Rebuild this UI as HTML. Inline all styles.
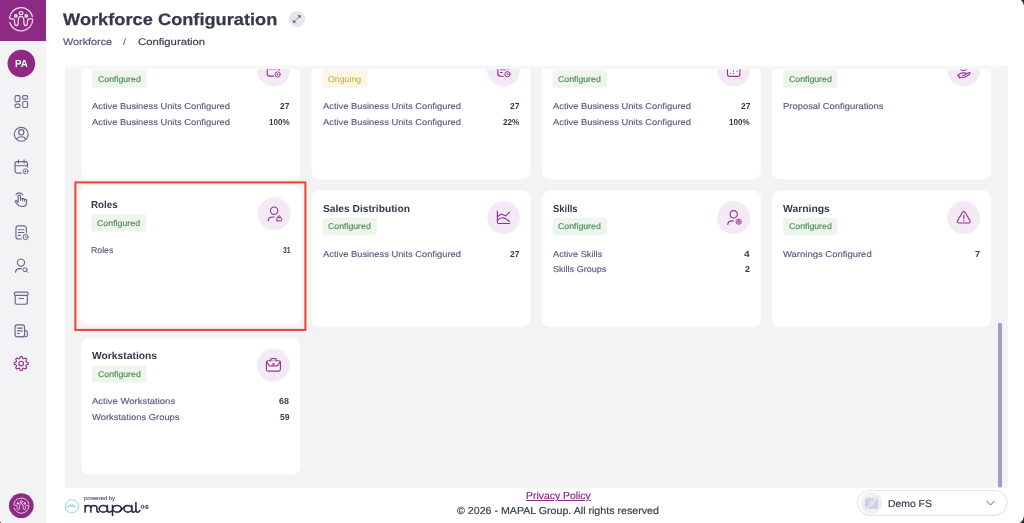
<!DOCTYPE html>
<html><head><meta charset="utf-8"><title>Workforce Configuration</title>
<style>
html,body{margin:0;padding:0;}
body{width:1024px;height:523px;overflow:hidden;background:#fff;position:relative;font-family:"Liberation Sans", sans-serif;}
.t{position:absolute;white-space:nowrap;line-height:1em;transform-origin:0 0;font-family:"Liberation Sans", sans-serif;text-rendering:geometricPrecision;}
.abs{position:absolute;}
#root{position:absolute;left:0;top:0;width:1024px;height:523px;overflow:hidden;will-change:transform;}
#side{position:absolute;left:0;top:0;width:46px;height:523px;background:#f3f3f6;}
#logo{position:absolute;left:0;top:0;width:46px;height:41px;background:#8e2a86;}
</style></head><body><div id="root">
<div id="side">
  <div id="logo"><svg class="abs" style="left:0;top:0" width="46" height="41" viewBox="0 0 46 41"><g transform="translate(21.05 19.3) scale(1.0)" stroke="#fff" stroke-opacity="0.88" stroke-width="1.20" fill="none" stroke-linecap="round" stroke-linejoin="round"><path d="M11.35 -2.8 A11.7 11.7 0 0 0 -11.5 -2.0 C-11.6 -0.9 -10.9 -0.5 -10 -0.5 H-8.4 C-6.6 -0.5 -6.4 0.8 -6.4 2.4 C-6.4 4.6 -5.9 6.3 -4.6 6.3 C-3.2 6.3 -2.8 4.7 -2.8 2.6 V1 C-2.8 -1.6 -1.6 -3 0 -3 C1.6 -3 2.8 -1.6 2.8 1 V2.6 C2.8 4.7 3.2 6.3 4.6 6.3 C5.9 6.3 6.4 4.6 6.4 2.4 C6.4 0.8 6.6 -0.5 8.4 -0.5 H11.6"/><path d="M-11.2 3.4 A11.7 11.7 0 0 0 11.65 0.9"/><ellipse cx="0" cy="-6.2" rx="1.9" ry="1.6"/><circle cx="-5.2" cy="-3.4" r="1.35" fill="#fff" fill-opacity="0.45"/><circle cx="5.2" cy="-3.4" r="1.35" fill="#fff" fill-opacity="0.45"/></g></svg></div>
  <svg class="abs" style="left:0;top:0" width="46" height="523" viewBox="0 0 46 523"><circle cx="21.35" cy="63.45" r="13.8" fill="#8e2a86"/><circle cx="21.3" cy="505.7" r="12.4" fill="#8e2a86"/><g transform="translate(21.35 505.65) scale(0.6495726495726496)" stroke="#fff" stroke-opacity="0.88" stroke-width="1.31" fill="none" stroke-linecap="round" stroke-linejoin="round"><path d="M11.35 -2.8 A11.7 11.7 0 0 0 -11.5 -2.0 C-11.6 -0.9 -10.9 -0.5 -10 -0.5 H-8.4 C-6.6 -0.5 -6.4 0.8 -6.4 2.4 C-6.4 4.6 -5.9 6.3 -4.6 6.3 C-3.2 6.3 -2.8 4.7 -2.8 2.6 V1 C-2.8 -1.6 -1.6 -3 0 -3 C1.6 -3 2.8 -1.6 2.8 1 V2.6 C2.8 4.7 3.2 6.3 4.6 6.3 C5.9 6.3 6.4 4.6 6.4 2.4 C6.4 0.8 6.6 -0.5 8.4 -0.5 H11.6"/><path d="M-11.2 3.4 A11.7 11.7 0 0 0 11.65 0.9"/><ellipse cx="0" cy="-6.2" rx="1.9" ry="1.6"/><circle cx="-5.2" cy="-3.4" r="1.35" fill="#fff" fill-opacity="0.45"/><circle cx="5.2" cy="-3.4" r="1.35" fill="#fff" fill-opacity="0.45"/></g></svg>
  <svg class="abs" style="left:0;top:0;" width="1024" height="523" viewBox="0 0 1024 523" fill="none" stroke-linecap="round" stroke-linejoin="round"><g stroke="#666a8b" stroke-width="1.15"><rect x="15.05" y="95.65" width="4.9" height="6.0" rx="1.1"/><rect x="22.65" y="95.65" width="4.9" height="3.4" rx="1.1"/><rect x="15.05" y="104.05" width="4.9" height="3.4" rx="1.1"/><rect x="22.65" y="101.45" width="4.9" height="6.0" rx="1.1"/><circle cx="21.25" cy="134.25" r="6.95"/><circle cx="21.25" cy="132.3" r="2.65"/><path d="M16.6 139.4 C17.4 137.4 19.2 136.7 21.25 136.7 C23.3 136.7 25.1 137.4 25.9 139.4"/><g transform="translate(0 0)"><path d="M27.45 167 V163.85 a2.2 2.2 0 0 0 -2.2 -2.2 H17.25 a2.2 2.2 0 0 0 -2.2 2.2 V170.85 a2.2 2.2 0 0 0 2.2 2.2 H21.3"/><path d="M15.05 165.7 H27.45 M18.4 159.9 V163 M24.1 159.9 V163"/><circle cx="25.5" cy="171.3" r="2.55" stroke-width="0.9"/><path d="M25 170.5 L26.3 171.3 L25 172.1 Z" fill="currentColor" stroke-width="0.4"/></g><path d="M16 194.7 A3.9 3.9 0 0 1 22.6 194.7"/><path d="M18.1 202.6 V196.3 a1.15 1.15 0 0 1 2.3 0 V200.3 M20.4 199.3 a1.05 1.05 0 0 1 2.1 0 V200.7 M22.5 199.7 a1.05 1.05 0 0 1 2.1 0 V201.1 M24.6 200.3 a1 1 0 0 1 2 0 V202.4 c0 2.5 -2 4.1 -4.8 4.1 c-2.4 0 -3.7 -1 -4.9 -2.6 l-1.5 -2.1 c-.5 -.8 .6 -1.6 1.3 -.9 l1.4 1.5"/><g transform="translate(0 0)"><path d="M26.35 232.4 V228.25 a2.4 2.4 0 0 0 -2.4 -2.4 H18.35 a2.4 2.4 0 0 0 -2.4 2.4 V236.65 a2.4 2.4 0 0 0 2.4 2.4 H21.4"/><path d="M18.4 229.7 H23.9 M18.4 232.5 H23.9 M18.4 235.3 H20.4"/><circle cx="25.6" cy="237" r="2.6" stroke-width="1"/><path d="M25.5 235.9 V237.2 H26.4" stroke-width="0.8"/></g><circle cx="21" cy="262.6" r="3.6"/><path d="M15.6 272.2 C15.6 269.8 17.6 268.6 20 268.6 H21.4"/><circle cx="25" cy="269.7" r="2.0" stroke-width="1"/><path d="M26.5 271.2 L27.7 272.4" stroke-width="1"/><rect x="14.45" y="292.05" width="13.6" height="3.3" rx="1.1"/><path d="M15.2 295.4 V302.2 a2 2 0 0 0 2 2 H25.3 a2 2 0 0 0 2 -2 V295.4 M19 298.5 H23.5"/><rect x="15.05" y="324.85" width="9.5" height="11.9" rx="2.3"/><path d="M24.55 330.6 H25.8 a1.5 1.5 0 0 1 1.5 1.5 V335.2 a1.5 1.5 0 0 1 -1.5 1.5 H18"/><path d="M17.4 328.1 H22.3 M17.4 330.9 H22.3 M17.4 333.5 H19.4"/></g><g stroke="#982f92" stroke-width="1.15"><path d="M19.72 358.41 L20.34 356.55 L22.06 356.55 L22.68 358.41 L23.75 358.86 L25.50 357.98 L26.72 359.20 L25.84 360.95 L26.29 362.02 L28.15 362.64 L28.15 364.36 L26.29 364.98 L25.84 366.05 L26.72 367.80 L25.50 369.02 L23.75 368.14 L22.68 368.59 L22.06 370.45 L20.34 370.45 L19.72 368.59 L18.65 368.14 L16.90 369.02 L15.68 367.80 L16.56 366.05 L16.11 364.98 L14.25 364.36 L14.25 362.64 L16.11 362.02 L16.56 360.95 L15.68 359.20 L16.90 357.98 L18.65 358.86Z"/><circle cx="21.2" cy="363.5" r="2.3"/></g></svg>
</div>
<div class="abs" style="left:288.9px;top:10.9px;width:16.2px;height:16.2px;border-radius:50%;background:#e5e5ea;"></div><svg class="abs" style="left:0;top:0;" width="1024" height="523" viewBox="0 0 1024 523" fill="none" stroke-linecap="round" stroke-linejoin="round"><g stroke="#5a5b66" stroke-width="0.65" fill="#4c4d58"><path d="M294.2 21.5 L299.6 16.4"/><path d="M293.3 20.4 V22.4 H295.3 Z M298.4 15.6 H300.4 V17.6 Z" stroke-width="0.5" stroke="#4c4d58"/></g></svg>
<svg class="abs" style="left:0;top:0" width="1024" height="523" viewBox="0 0 1024 523"><defs><clipPath id="cc"><rect x="65" y="69.15" width="943" height="418.5"/></clipPath></defs><rect x="65" y="65.9" width="942.8" height="421.8" fill="#f3f3f6"/><g clip-path="url(#cc)"><rect x="81.30" y="43.00" width="219.00" height="136.30" rx="8" fill="#fff"/><rect x="92.20" y="70.25" width="54.50" height="17.35" rx="2.6" fill="#edf5ee"/><g transform="translate(273.45 70.00)"><circle r="16.5" fill="#f3eaf5"/><g fill="none" stroke="#982f92" color="#982f92" stroke-width="1.15" stroke-linecap="round" stroke-linejoin="round"><g transform="translate(-21.25 -166.9)"><path d="M27.45 167 V163.85 a2.2 2.2 0 0 0 -2.2 -2.2 H17.25 a2.2 2.2 0 0 0 -2.2 2.2 V170.85 a2.2 2.2 0 0 0 2.2 2.2 H21.3"/><path d="M15.05 165.7 H27.45 M18.4 159.9 V163 M24.1 159.9 V163"/><circle cx="25.5" cy="171.3" r="2.55" stroke-width="0.9"/><path d="M25 170.5 L26.3 171.3 L25 172.1 Z" fill="currentColor" stroke-width="0.4"/></g></g></g><rect x="311.55" y="43.00" width="219.00" height="136.30" rx="8" fill="#fff"/><rect x="322.45" y="70.25" width="44.90" height="17.35" rx="2.6" fill="#fdf6e4"/><g transform="translate(503.57 70.00)"><circle r="16.5" fill="#f3eaf5"/><g fill="none" stroke="#982f92" color="#982f92" stroke-width="1.15" stroke-linecap="round" stroke-linejoin="round"><g transform="translate(-21.7 -232.8)"><path d="M26.35 232.4 V228.25 a2.4 2.4 0 0 0 -2.4 -2.4 H18.35 a2.4 2.4 0 0 0 -2.4 2.4 V236.65 a2.4 2.4 0 0 0 2.4 2.4 H21.4"/><path d="M18.4 229.7 H23.9 M18.4 232.5 H23.9 M18.4 235.3 H20.4"/><circle cx="25.6" cy="237" r="2.6" stroke-width="1"/><path d="M25.5 235.9 V237.2 H26.4" stroke-width="0.8"/></g></g></g><rect x="541.80" y="43.00" width="219.00" height="136.30" rx="8" fill="#fff"/><rect x="552.70" y="70.25" width="54.50" height="17.35" rx="2.6" fill="#edf5ee"/><g transform="translate(733.69 70.00)"><circle r="16.5" fill="#f3eaf5"/><g fill="none" stroke="#982f92" color="#982f92" stroke-width="1.15" stroke-linecap="round" stroke-linejoin="round"><rect x="-6.2" y="-5.9" width="12.4" height="12.3" rx="2.2" fill="#fbf6fc"/><path d="M-6.2 -2.4 H6.2 M-2.9 -7.8 V-4.6 M2.9 -7.8 V-4.6"/><g stroke-width="1.2"><path d="M-0.2 1.2 h0.01 M3.2 1.2 h0.01 M-3.3 3.5 h0.01 M-0.2 3.5 h0.01"/></g></g></g><rect x="772.05" y="43.00" width="219.00" height="136.30" rx="8" fill="#fff"/><rect x="782.95" y="70.25" width="54.50" height="17.35" rx="2.6" fill="#edf5ee"/><g transform="translate(963.81 70.00)"><circle r="16.5" fill="#f3eaf5"/><g fill="none" stroke="#982f92" color="#982f92" stroke-width="1.15" stroke-linecap="round" stroke-linejoin="round"><circle cx="-0.3" cy="-3.3" r="3.8"/><path d="M-1.2 -4.3 h1.8 M-1.2 -2.5 h1.8"/><path d="M-4.6 4.4 C-3.6 3.2 -2.6 2.9 -1.4 2.9 H0.6 C1.6 2.9 2 3.5 2 4.1 C2 4.7 1.5 5.2 0.6 5.2 H-1.4 M2 4.3 L4.6 2.7 C5.2 2.3 5.9 2.4 6.1 2.9 C6.4 3.4 6.1 3.9 5.6 4.3 L2.4 6.6 C1.8 7 1.2 7.2 0.5 7.2 H-3.4"/><path d="M-5.8 4.9 L-4.1 7.8" stroke-width="1.5"/></g></g><rect x="79.40" y="185.30" width="222.60" height="139.90" rx="8.8" fill="#fff" fill-opacity="0.45"/><rect x="80.30" y="186.00" width="220.80" height="138.30" rx="8" fill="#fff"/><rect x="91.39" y="214.04" width="54.95" height="17.45" rx="2.6" fill="#edf5ee"/><g transform="translate(274.13 213.79)"><circle r="16.5" fill="#f3eaf5"/><g fill="none" stroke="#982f92" color="#982f92" stroke-width="1.15" stroke-linecap="round" stroke-linejoin="round"><circle cx="0" cy="-3.1" r="3.65"/><path d="M-5.8 6.9 C-5.8 4.4 -3.8 3.2 -1.6 3.2 H-0.2"/><path d="M3.2 7 h3.6 a0.8 0.8 0 0 0 .75 -1.05 l-.7 -2.1 h-3.7 l-.7 2.1 a.8 .8 0 0 0 .75 1.05 z M3.9 3.8 V3.1 a1.1 1.1 0 0 1 2.2 0 V3.8" stroke-width="1"/></g></g><rect x="311.55" y="190.60" width="219.00" height="136.30" rx="8" fill="#fff"/><rect x="322.45" y="217.85" width="54.50" height="17.35" rx="2.6" fill="#edf5ee"/><g transform="translate(503.57 217.60)"><circle r="16.5" fill="#f3eaf5"/><g fill="none" stroke="#982f92" color="#982f92" stroke-width="1.15" stroke-linecap="round" stroke-linejoin="round"><path d="M-6.2 -6.6 V4.4 a1.5 1.5 0 0 0 1.5 1.5 H6.2"/><path d="M-6.2 -1.2 L-2.1 -3.7 L2.2 -1.7 L5.9 -5.4"/><path d="M-6.2 2.8 C-3.5 0 -1.2 0 0 0.3 C2.5 1 4 2.3 5.9 3.8"/></g></g><rect x="541.80" y="190.60" width="219.00" height="136.30" rx="8" fill="#fff"/><rect x="552.70" y="217.85" width="54.50" height="17.35" rx="2.6" fill="#edf5ee"/><g transform="translate(733.69 217.60)"><circle r="16.5" fill="#f3eaf5"/><g fill="none" stroke="#982f92" color="#982f92" stroke-width="1.15" stroke-linecap="round" stroke-linejoin="round"><circle cx="0" cy="-3.3" r="3.65"/><path d="M-5.9 6.9 C-5.9 4.5 -4 3.3 -1.8 3.3 H-0.4"/><path d="M4.39 1.99 L4.64 1.22 L5.36 1.22 L5.61 1.99 L6.06 2.17 L6.78 1.81 L7.29 2.32 L6.93 3.04 L7.11 3.49 L7.88 3.74 L7.88 4.46 L7.11 4.71 L6.93 5.16 L7.29 5.88 L6.78 6.39 L6.06 6.03 L5.61 6.21 L5.36 6.98 L4.64 6.98 L4.39 6.21 L3.94 6.03 L3.22 6.39 L2.71 5.88 L3.07 5.16 L2.89 4.71 L2.12 4.46 L2.12 3.74 L2.89 3.49 L3.07 3.04 L2.71 2.32 L3.22 1.81 L3.94 2.17Z" stroke-width="0.7" fill="#982f92" fill-opacity="0.35"/><circle cx="5" cy="4.1" r="0.8" stroke-width="0.7"/></g></g><rect x="772.05" y="190.60" width="219.00" height="136.30" rx="8" fill="#fff"/><rect x="782.95" y="217.85" width="54.50" height="17.35" rx="2.6" fill="#edf5ee"/><g transform="translate(963.81 217.60)"><circle r="16.5" fill="#f3eaf5"/><g fill="none" stroke="#982f92" color="#982f92" stroke-width="1.15" stroke-linecap="round" stroke-linejoin="round"><path d="M-1.25 -5.3 a1.45 1.45 0 0 1 2.5 0 L6.2 3.2 a1.45 1.45 0 0 1 -1.25 2.2 H-4.95 a1.45 1.45 0 0 1 -1.25 -2.2 Z"/><path d="M0 -2.6 V1.0"/><path d="M0 3.1 h0.01" stroke-width="1.4"/></g></g><rect x="81.30" y="338.20" width="219.00" height="136.30" rx="8" fill="#fff"/><rect x="92.20" y="365.45" width="54.50" height="17.35" rx="2.6" fill="#edf5ee"/><g transform="translate(273.45 365.20)"><circle r="16.5" fill="#f3eaf5"/><g fill="none" stroke="#982f92" color="#982f92" stroke-width="1.15" stroke-linecap="round" stroke-linejoin="round"><rect x="-7.05" y="-4.45" width="14" height="10.4" rx="1.8" fill="#fbf6fc"/><path d="M-2.7 -4.45 V-5.7 a1 1 0 0 1 1 -1 H1.7 a1 1 0 0 1 1 1 V-4.45" fill="#e9d3ea"/><path d="M-6.7 -3.4 L-4.3 0.2 a1 1 0 0 0 .85 .45 H3.45 a1 1 0 0 0 .85 -.45 L6.7 -3.4"/><path d="M-0.7 -1.1 H0.7" stroke-width="1.5"/></g></g><rect x="75.4" y="182.4" width="230.0" height="147.5" fill="none" stroke="#e8432b" stroke-width="2"/></g><rect x="65" y="65.9" width="942.8" height="3.25" fill="#f6f6f9"/><rect x="998" y="322.7" width="4" height="164.9" rx="2" fill="#9c9fc0"/></svg>
<span class="t" style="left:97.80px;top:75px;font-size:8.4px;font-weight:400;color:#4c8c50;transform:scaleX(1.0432);-webkit-text-stroke:0.15px #4c8c50;">Configured</span><span class="t" style="left:92.30px;top:102px;font-size:8.6px;font-weight:400;color:#565a7f;transform:scaleX(1.0850);-webkit-text-stroke:0.14px #565a7f;">Active Business Units Configured</span><span class="t" style="left:280.00px;top:102px;font-size:8.6px;font-weight:700;color:#343949;transform:scaleX(0.9765);">27</span><span class="t" style="left:92.30px;top:118px;font-size:8.6px;font-weight:400;color:#565a7f;transform:scaleX(1.0850);-webkit-text-stroke:0.14px #565a7f;">Active Business Units Configured</span><span class="t" style="left:268.70px;top:118px;font-size:8.6px;font-weight:700;color:#343949;transform:scaleX(0.9334);">100%</span><span class="t" style="left:328.05px;top:75px;font-size:8.4px;font-weight:400;color:#d6ae4a;transform:scaleX(1.0467);-webkit-text-stroke:0.12px #d6ae4a;">Ongoing</span><span class="t" style="left:322.55px;top:102px;font-size:8.6px;font-weight:400;color:#565a7f;transform:scaleX(1.0850);-webkit-text-stroke:0.14px #565a7f;">Active Business Units Configured</span><span class="t" style="left:510.25px;top:102px;font-size:8.6px;font-weight:700;color:#343949;transform:scaleX(0.9765);">27</span><span class="t" style="left:322.55px;top:118px;font-size:8.6px;font-weight:400;color:#565a7f;transform:scaleX(1.0850);-webkit-text-stroke:0.14px #565a7f;">Active Business Units Configured</span><span class="t" style="left:503.10px;top:118px;font-size:8.6px;font-weight:700;color:#343949;transform:scaleX(0.9511);">22%</span><span class="t" style="left:558.30px;top:75px;font-size:8.4px;font-weight:400;color:#4c8c50;transform:scaleX(1.0432);-webkit-text-stroke:0.15px #4c8c50;">Configured</span><span class="t" style="left:552.80px;top:102px;font-size:8.6px;font-weight:400;color:#565a7f;transform:scaleX(1.0850);-webkit-text-stroke:0.14px #565a7f;">Active Business Units Configured</span><span class="t" style="left:740.50px;top:102px;font-size:8.6px;font-weight:700;color:#343949;transform:scaleX(0.9765);">27</span><span class="t" style="left:552.80px;top:118px;font-size:8.6px;font-weight:400;color:#565a7f;transform:scaleX(1.0850);-webkit-text-stroke:0.14px #565a7f;">Active Business Units Configured</span><span class="t" style="left:729.20px;top:118px;font-size:8.6px;font-weight:700;color:#343949;transform:scaleX(0.9334);">100%</span><span class="t" style="left:788.55px;top:75px;font-size:8.4px;font-weight:400;color:#4c8c50;transform:scaleX(1.0432);-webkit-text-stroke:0.15px #4c8c50;">Configured</span><span class="t" style="left:783.05px;top:102px;font-size:8.6px;font-weight:400;color:#565a7f;transform:scaleX(1.0960);-webkit-text-stroke:0.14px #565a7f;">Proposal Configurations</span><span class="t" style="left:91.49px;top:201px;font-size:10.2px;font-weight:700;color:#343949;transform:scaleX(0.9588);">Roles</span><span class="t" style="left:97.04px;top:219px;font-size:8.4px;font-weight:400;color:#4c8c50;transform:scaleX(1.0518);-webkit-text-stroke:0.15px #4c8c50;">Configured</span><span class="t" style="left:91.49px;top:246px;font-size:8.6px;font-weight:400;color:#565a7f;transform:scaleX(1.0140);-webkit-text-stroke:0.14px #565a7f;">Roles</span><span class="t" style="left:282.50px;top:246px;font-size:8.6px;font-weight:700;color:#343949;transform:scaleX(0.8041);">31</span><span class="t" style="left:322.55px;top:205px;font-size:10.2px;font-weight:700;color:#343949;transform:scaleX(1.0036);">Sales Distribution</span><span class="t" style="left:328.05px;top:222px;font-size:8.4px;font-weight:400;color:#4c8c50;transform:scaleX(1.0432);-webkit-text-stroke:0.15px #4c8c50;">Configured</span><span class="t" style="left:322.55px;top:250px;font-size:8.6px;font-weight:400;color:#565a7f;transform:scaleX(1.0850);-webkit-text-stroke:0.14px #565a7f;">Active Business Units Configured</span><span class="t" style="left:510.25px;top:250px;font-size:8.6px;font-weight:700;color:#343949;transform:scaleX(0.9765);">27</span><span class="t" style="left:552.80px;top:205px;font-size:10.2px;font-weight:700;color:#343949;transform:scaleX(0.9239);">Skills</span><span class="t" style="left:558.30px;top:222px;font-size:8.4px;font-weight:400;color:#4c8c50;transform:scaleX(1.0432);-webkit-text-stroke:0.15px #4c8c50;">Configured</span><span class="t" style="left:552.80px;top:250px;font-size:8.6px;font-weight:400;color:#565a7f;transform:scaleX(1.0714);-webkit-text-stroke:0.14px #565a7f;">Active Skills</span><span class="t" style="left:744.15px;top:250px;font-size:8.6px;font-weight:700;color:#343949;transform:scaleX(1.1800);">4</span><span class="t" style="left:552.80px;top:265px;font-size:8.6px;font-weight:400;color:#565a7f;transform:scaleX(1.0531);-webkit-text-stroke:0.14px #565a7f;">Skills Groups</span><span class="t" style="left:744.85px;top:265px;font-size:8.6px;font-weight:700;color:#343949;transform:scaleX(1.0400);">2</span><span class="t" style="left:783.05px;top:205px;font-size:10.2px;font-weight:700;color:#343949;transform:scaleX(1.0180);">Warnings</span><span class="t" style="left:788.55px;top:222px;font-size:8.4px;font-weight:400;color:#4c8c50;transform:scaleX(1.0432);-webkit-text-stroke:0.15px #4c8c50;">Configured</span><span class="t" style="left:783.05px;top:250px;font-size:8.6px;font-weight:400;color:#565a7f;transform:scaleX(1.1026);-webkit-text-stroke:0.14px #565a7f;">Warnings Configured</span><span class="t" style="left:975.00px;top:250px;font-size:8.6px;font-weight:700;color:#343949;transform:scaleX(1.0600);">7</span><span class="t" style="left:92.30px;top:352px;font-size:10.2px;font-weight:700;color:#343949;transform:scaleX(1.0112);">Workstations</span><span class="t" style="left:97.80px;top:370px;font-size:8.4px;font-weight:400;color:#4c8c50;transform:scaleX(1.0432);-webkit-text-stroke:0.15px #4c8c50;">Configured</span><span class="t" style="left:92.30px;top:397px;font-size:8.6px;font-weight:400;color:#565a7f;transform:scaleX(1.1040);-webkit-text-stroke:0.14px #565a7f;">Active Workstations</span><span class="t" style="left:279.35px;top:397px;font-size:8.6px;font-weight:700;color:#343949;transform:scaleX(1.0430);">68</span><span class="t" style="left:92.30px;top:413px;font-size:8.6px;font-weight:400;color:#565a7f;transform:scaleX(1.0930);-webkit-text-stroke:0.14px #565a7f;">Workstations Groups</span><span class="t" style="left:279.85px;top:413px;font-size:8.6px;font-weight:700;color:#343949;transform:scaleX(0.9919);">59</span>
<svg class="abs" style="left:0;top:0;" width="1024" height="523" viewBox="0 0 1024 523" fill="none" stroke-linecap="round" stroke-linejoin="round"><g stroke="#8ed0dc" stroke-width="0.9"><circle cx="71.9" cy="506.4" r="6.6"/><path d="M66.6 507.2 l1.3 -1.5 l1 1 l1.6 -2.3 l1.3 2.6 l1.5 -2.4 l1.2 3.2 l1.2 -1.2" stroke="#5fb9c9" stroke-width="0.8"/></g><g stroke="#2f2450" stroke-width="1.55"><path d="M85.1 512.1 V505.6 M85.1 508 C85.1 506.3 86.3 505.5 88 505.5 C89.7 505.5 90.9 506.3 90.9 508 V512.1 M90.9 508 C90.9 506.3 92.1 505.5 93.9 505.5 C95.6 505.5 96.9 506.3 96.9 508 V510.3 C96.9 511.5 97.5 512.1 98.6 512.1"/><ellipse cx="103.3" cy="508.8" rx="4.1" ry="3.35"/><path d="M107.4 505.6 V510.3 C107.4 511.5 108.1 512.1 109.2 512.1 C110.6 512.1 111.6 511.6 112.5 510.6"/><path d="M112.5 505.6 V515.4"/><ellipse cx="117" cy="508.8" rx="4.4" ry="3.35"/><path d="M119.2 511.8 L125.6 505.8"/><ellipse cx="127.9" cy="508.8" rx="3.95" ry="3.35"/><path d="M131.8 505.6 V510.3 C131.8 511.5 132.4 512.1 133.4 512.1 C134.6 512.1 135.4 511.5 135.9 510.5"/><path d="M135.9 502.5 V510.2 C135.9 511.5 136.7 512.15 137.8 512.15 C138.8 512.15 139.5 511.6 139.9 510.5"/></g><g stroke="#2f2450" stroke-width="0.9"><ellipse cx="142.5" cy="506.8" rx="1.45" ry="1.5"/><path d="M148.1 505.7 c-.3 -.3 -.8 -.45 -1.3 -.45 c-.8 0 -1.25 .3 -1.25 .8 c0 1.2 2.7 .4 2.7 1.6 c0 .5 -.5 .8 -1.35 .8 c-.6 0 -1.1 -.2 -1.5 -.5"/></g></svg>
<svg class="abs" style="left:0;top:0;" width="1024" height="523" viewBox="0 0 1024 523" fill="none" stroke-linecap="round" stroke-linejoin="round"><rect x="857.7" y="490.5" width="149.4" height="24.9" rx="12.45" fill="#fff" stroke="#e1e2ee" stroke-width="1.1"/><circle cx="871.5" cy="503.1" r="10.9" fill="#eff0f5"/><path d="M864.9 499.6 a1 1 0 0 1 1 -1 h0.9 l0.7 -1.1 h2.6 l0.7 1.1 h6.3 a1 1 0 0 1 1 1 v8.1 a1 1 0 0 1 -1 1 h-11.2 a1 1 0 0 1 -1 -1 z" fill="#ccd0e3"/><circle cx="871.5" cy="503.6" r="2.2" fill="none" stroke="#e6e8f1" stroke-width="0.9"/><path d="M864.8 510 L878.3 496.9" stroke="#eff0f5" stroke-width="1.9"/><path d="M864.9 509.6 L878 497.1" stroke="#ccd0e3" stroke-width="0.8"/><path d="M986.9 501.3 L990.5 505 L994.1 501.3" stroke="#5d6184" stroke-width="1" fill="none"/></svg>
<span class="t" style="left:63.00px;top:12px;font-size:16.6px;font-weight:700;color:#353a4a;transform:scaleX(1.0989);-webkit-text-stroke:0.25px;">Workforce</span><span class="t" style="left:158.00px;top:12px;font-size:16.6px;font-weight:700;color:#353a4a;transform:scaleX(1.0965);-webkit-text-stroke:0.25px;">Configuration</span><span class="t" style="left:62.60px;top:38px;font-size:9.6px;font-weight:400;color:#50547a;transform:scaleX(1.1273);-webkit-text-stroke:0.18px;">Workforce</span><span class="t" style="left:123.00px;top:38px;font-size:9.6px;font-weight:400;color:#50547a;transform:scaleX(1.1000);">/</span><span class="t" style="left:138.30px;top:38px;font-size:9.6px;font-weight:400;color:#3c4152;transform:scaleX(1.1757);-webkit-text-stroke:0.18px;">Configuration</span><span class="t" style="left:525.50px;top:492px;font-size:10.2px;font-weight:400;color:#8e2a86;transform:scaleX(1.0216);-webkit-text-stroke:0.18px;text-decoration:underline;text-decoration-thickness:0.8px;text-underline-offset:1.2px;">Privacy Policy</span><span class="t" style="left:456.90px;top:507px;font-size:10.2px;font-weight:400;color:#3c4152;transform:scaleX(1.0446);-webkit-text-stroke:0.2px;">© 2026 - MAPAL Group. All rights reserved</span><span class="t" style="left:888.30px;top:500px;font-size:10.2px;font-weight:400;color:#3c4152;transform:scaleX(1.0202);-webkit-text-stroke:0.2px;">Demo FS</span><span class="t" style="left:84.20px;top:497px;font-size:5.5px;font-weight:400;color:#4d4670;transform:scaleX(1.0947);-webkit-text-stroke:0.1px;">powered by</span><span class="t" style="left:14.80px;top:60px;font-size:10.3px;font-weight:700;color:#ffffff;transform:scaleX(0.9430);">PA</span>
<svg class="abs" style="left:0;top:0;" width="1024" height="523" viewBox="0 0 1024 523" fill="none" stroke-linecap="round" stroke-linejoin="round"><g fill="#2b2b2b" stroke="none"><path d="M1020.8 0 A9.3 9.3 0 0 1 1024 7 L1024 0 Z"/><path d="M1024 515 A9.5 9.5 0 0 1 1019.6 523 L1024 523 Z"/><path d="M0 521.6 A9.5 9.5 0 0 0 1.3 523 L0 523 Z"/></g></svg>
</div></body></html>
